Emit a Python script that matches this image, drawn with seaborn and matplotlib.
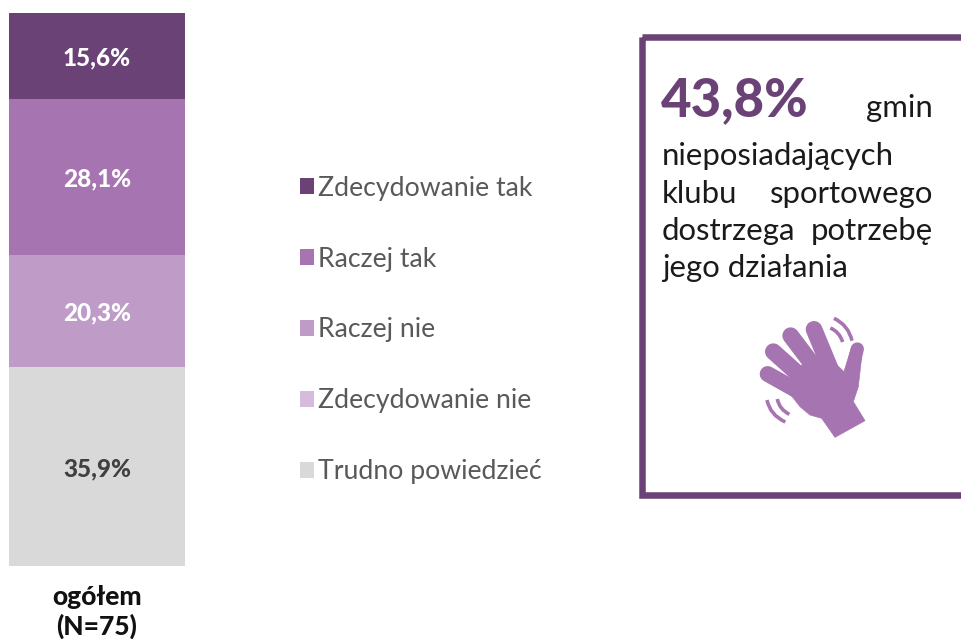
import matplotlib
matplotlib.use("Agg")
import matplotlib.pyplot as plt
import pandas as pd
import seaborn as sns
from matplotlib.patches import Rectangle, Polygon, PathPatch
from matplotlib.path import Path

group = "ogółem\n(N=75)"
answers = ["Zdecydowanie tak", "Raczej tak", "Raczej nie", "Zdecydowanie nie", "Trudno powiedzieć"]
values = [15.6, 28.1, 20.3, 0.0, 35.9]
colors = ["#6B4275", "#A674B0", "#BF9CC8", "#D6BCDC", "#D9D9D9"]
label_colors = ["white", "white", "white", "white", "#404040"]
headline = "43,8%"
box_lines = [["gmin"], ["nieposiadających"], ["klubu", "sportowego"], ["dostrzega", "potrzebę"], ["jego działania"]]

W, H = 961, 639
FONT = "Lato"
sns.set_theme(style="white")
plt.rcParams["font.family"] = [FONT, "DejaVu Sans"]

fig = plt.figure(figsize=(W / 100, H / 100), dpi=100, facecolor="white")
ax = fig.add_axes([9 / W, 1 - 566 / H, 176 / W, 553 / H])

df = pd.DataFrame({"grupa": group, "odpowiedz": answers, "wartosc": values})
remaining = sum(values)
for i, row in df.iterrows():
    remaining -= row["wartosc"]
    sns.barplot(data=df[df["odpowiedz"] == row["odpowiedz"]], x="grupa", y="wartosc",
                bottom=remaining, color=colors[i], label=row["odpowiedz"],
                width=1.0, saturation=1, errorbar=None, linewidth=0, ax=ax)
    if row["wartosc"] > 0:
        anns = ax.bar_label(ax.containers[-1], labels=[f"{row['wartosc']:.1f}%".replace(".", ",")],
                            label_type="center", color=label_colors[i], fontsize=17.5,
                            fontweight=900, family=[FONT, "DejaVu Sans"])
        for a in anns:
            a.xyann = (0, -1.5)
handles, labels = ax.get_legend_handles_labels()
if ax.get_legend() is not None:
    ax.get_legend().remove()
ax.set_xlim(-0.5, 0.5)
ax.set_ylim(0, sum(values))
ax.set_xlabel("")
ax.set_ylabel("")
ax.set_yticks([])
ax.tick_params(axis="x", length=0, pad=14, labelsize=19)
for t in ax.get_xticklabels():
    t.set_fontweight(900)
    t.set_color("#111111")
    t.set_linespacing(1.2)
sns.despine(ax=ax, left=True, bottom=True, top=True, right=True)

fig.legend(handles, labels, loc="upper left", bbox_to_anchor=(289 / W, 1 - 165 / H),
           frameon=False, fontsize=19.2, labelcolor="#595959", handlelength=0.53,
           handleheight=0.53, handletextpad=0.15, labelspacing=1.72, borderaxespad=0)

ov = fig.add_axes([0, 0, 1, 1], facecolor="none", zorder=5)
ov.set_xlim(0, W)
ov.set_ylim(H, 0)
ov.axis("off")

PURPLE = colors[0]
HAND = colors[1]
ov.add_patch(Rectangle((642, 36.7), 340, 458.5, fill=False, ec=PURPLE, lw=4.7, clip_on=True))

ov.text(661, 116, headline, color=PURPLE, fontsize=38, fontweight=900, va="baseline", ha="left")
TEXT = dict(color="#1a1a1a", fontsize=22.4, va="baseline")
baselines = [117, 165, 203, 240, 277]
for words, y in zip(box_lines, baselines):
    if words == ["gmin"]:
        ov.text(933, y, words[0], ha="right", **TEXT)
    elif len(words) == 2:
        ov.text(662, y, words[0], ha="left", **TEXT)
        ov.text(933, y, words[1], ha="right", **TEXT)
    else:
        ov.text(662, y, words[0], ha="left", **TEXT)

# Hand icon, coordinates from the 3x crop at (720, 300)
def z(x, y):
    return (720 + x / 3, 300 + y / 3)

fingers = [((143, 222), (225, 268), 11.5), ((160, 155), (255, 240), 12), ((212, 107), (290, 210), 12),
           ((282, 88), (345, 240), 12), ((412, 147), (390, 240), 9.5)]
for a, b, lw in fingers:
    pa, pb = z(*a), z(*b)
    ov.plot([pa[0], pb[0]], [pa[1], pb[1]], color=HAND, lw=lw, solid_capstyle="round")
palm = [(205, 275), (240, 320), (270, 345), (305, 355), (345, 412), (435, 362), (400, 305),
        (415, 260), (425, 170), (395, 140), (372, 215), (340, 185), (300, 150), (285, 180),
        (245, 195), (220, 235)]
ov.add_patch(Polygon([z(*p) for p in palm], closed=True, fc=HAND, ec=HAND, lw=0.5))

arcs = [((342, 55), (385, 75), (396, 122)), ((331, 84), (358, 95), (368, 126)),
        ((141, 300), (150, 345), (196, 366)), ((172, 297), (178, 328), (208, 343))]
for p0, p1, p2 in arcs:
    path = Path([z(*p0), z(*p1), z(*p2)], [Path.MOVETO, Path.CURVE3, Path.CURVE3])
    ov.add_patch(PathPatch(path, fill=False, ec=HAND, lw=2.6, capstyle="butt"))

fig.savefig("out.png", dpi=100, facecolor="white")
